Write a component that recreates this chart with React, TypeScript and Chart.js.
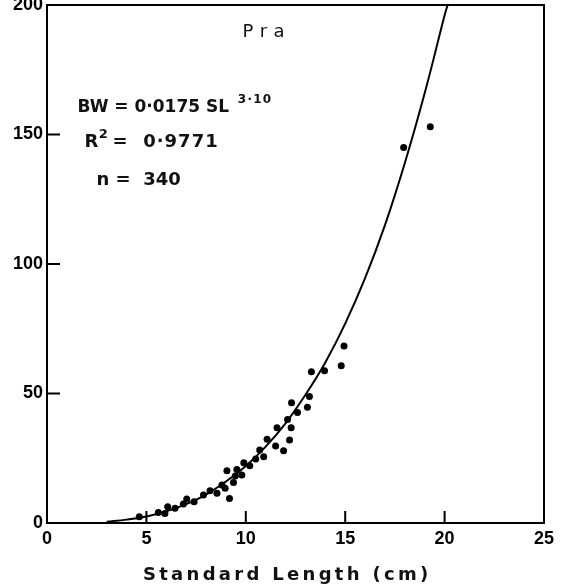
import React, { useEffect, useRef } from "react";
import { Chart, registerables } from "chart.js";

Chart.register(...registerables);

// Observed fish (Standard Length cm, Body Weight g)
const SL_OBS = [4.64, 5.6, 5.93, 6.07, 6.44, 6.86, 7.03, 7.4, 7.87, 8.2, 8.55, 8.8, 8.96, 9.05, 9.18, 9.38, 9.47, 9.8, 9.55, 9.9, 10.2, 10.5, 10.7, 10.9, 11.07, 11.5, 11.57, 11.9, 12.2, 12.28, 12.1, 12.3, 12.6, 13.1, 13.2, 13.3, 13.96, 14.8, 14.94, 17.94, 19.28];
const BW_OBS = [2.4, 4.1, 3.7, 6.3, 5.7, 7.3, 9.3, 8.2, 10.8, 12.5, 11.5, 14.7, 13.4, 20.2, 9.5, 15.6, 18.1, 18.5, 20.7, 23.3, 22.1, 24.7, 28.2, 25.6, 32.3, 29.7, 36.8, 27.9, 32, 36.8, 40, 46.4, 42.7, 44.7, 48.8, 58.4, 58.8, 60.7, 68.3, 145, 153];

// Fitted curve
const SL_FIT = [3, 4, 5, 6, 7, 8, 9, 10, 11, 12, 13, 14, 15, 16, 17, 18, 19, 20, 20.15];
const BW_FIT = [0.5, 1.3, 2.5, 4.5, 7.3, 11, 16, 22, 29.5, 38.5, 49.5, 62, 77, 94.5, 115, 139, 166, 196, 200];

const X_TICK_MARKS = [5, 10, 15, 20];
const Y_TICK_MARKS = [50, 100, 150];

const TITLE_TEXT = "Pra";
const EQ_TEXT = "BW = 0·0175 SL";
const EQ_EXP = "3·10";
const R_TEXT = "R";
const R_EXP = "2";
const R_VAL = "=  0·9771";
const N_TEXT = "n =  340";
const X_TITLE = "Standard Length (cm)";

const FONT = "'DejaVu Sans', 'Liberation Sans', sans-serif";
const TICK_FONT = "'Liberation Sans', Arial, sans-serif";

const overlay = {
  id: "overlay",
  afterDraw(chart: any) {
    const { ctx, chartArea: a, scales } = chart;
    const xs = scales.x;
    const ys = scales.y;
    ctx.save();
    ctx.strokeStyle = "#000";
    ctx.lineWidth = 2;
    ctx.strokeRect(a.left, a.top, a.right - a.left, a.bottom - a.top);
    ctx.beginPath();
    X_TICK_MARKS.forEach((v) => {
      const px = xs.getPixelForValue(v);
      ctx.moveTo(px, a.bottom);
      ctx.lineTo(px, a.bottom - 12);
    });
    Y_TICK_MARKS.forEach((v) => {
      const py = ys.getPixelForValue(v);
      ctx.moveTo(a.left, py);
      ctx.lineTo(a.left + 13, py);
    });
    ctx.stroke();

    ctx.fillStyle = "#111";
    ctx.textBaseline = "alphabetic";
    ctx.textAlign = "left";
    const put = (t: string, x: number, y: number, size: number, ls: number, weight = "bold") => {
      ctx.font = `${weight} ${size}px ${FONT}`;
      (ctx as any).letterSpacing = `${ls}px`;
      ctx.fillText(t, xs.getPixelForValue(x), ys.getPixelForValue(y));
    };
    put(TITLE_TEXT, 9.84, 187.6, 18, 6.5, "normal");
    put(EQ_TEXT, 1.54, 158.7, 17, 0);
    put(EQ_EXP, 9.6, 162.2, 12, 1.2);
    put(R_TEXT, 1.89, 145.1, 18, 0);
    put(R_EXP, 2.6, 148.6, 13, 0);
    put(R_VAL, 3.3, 145.1, 18, 1);
    put(N_TEXT, 2.49, 130.5, 18, 0);

    // x-axis title
    ctx.font = `bold 18px ${FONT}`;
    const ls = 3.3;
    (ctx as any).letterSpacing = `${ls}px`;
    const w = ctx.measureText(X_TITLE).width;
    const cx = xs.getPixelForValue(12);
    ctx.fillText(X_TITLE, cx - (w - ls) / 2, a.bottom + 57);
    ctx.restore();
  },
};

export default function App() {
  const ref = useRef<HTMLCanvasElement | null>(null);
  useEffect(() => {
    if (!ref.current) return;
    const obs = SL_OBS.map((x, i) => ({ x, y: BW_OBS[i] }));
    const fit = SL_FIT.map((x, i) => ({ x, y: BW_FIT[i] }));
    const tickFont = { family: TICK_FONT, size: 18, weight: "bold" as const };
    const chart = new Chart(ref.current, {
      type: "scatter",
      data: {
        datasets: [
          {
            label: "Fit",
            data: fit,
            showLine: true,
            pointRadius: 0,
            borderColor: "#000",
            borderWidth: 2,
            tension: 0.4,
            fill: false,
          } as any,
          {
            label: "Observed",
            data: obs,
            pointRadius: 3.5,
            pointBackgroundColor: "#000",
            pointBorderWidth: 0,
            backgroundColor: "#000",
          },
        ],
      },
      options: {
        animation: false,
        responsive: false,
        layout: { padding: { top: 5, right: 21, bottom: 0, left: 0 } },
        plugins: { legend: { display: false }, tooltip: { enabled: false } },
        scales: {
          x: {
            type: "linear",
            min: 0,
            max: 25,
            grid: { display: false, drawTicks: false },
            border: { display: false },
            ticks: { stepSize: 5, padding: 5, color: "#000", font: tickFont, maxRotation: 0 },
            afterFit: (s: any) => {
              s.height = 65;
              s.paddingLeft = 0;
              s.paddingRight = 0;
            },
          },
          y: {
            type: "linear",
            min: 0,
            max: 200,
            grid: { display: false, drawTicks: false },
            border: { display: false },
            ticks: { stepSize: 50, padding: 4, color: "#000", font: tickFont },
            afterFit: (s: any) => {
              s.width = 47;
              s.paddingTop = 0;
              s.paddingBottom = 0;
            },
          },
        },
      },
      plugins: [overlay],
    });
    return () => chart.destroy();
  }, []);
  return (
    <div style={{ position: "absolute", left: 0, top: 0, width: 565, height: 588, background: "#fff" }}>
      <canvas ref={ref} width={565} height={588} style={{ width: 565, height: 588, display: "block" }} />
    </div>
  );
}
